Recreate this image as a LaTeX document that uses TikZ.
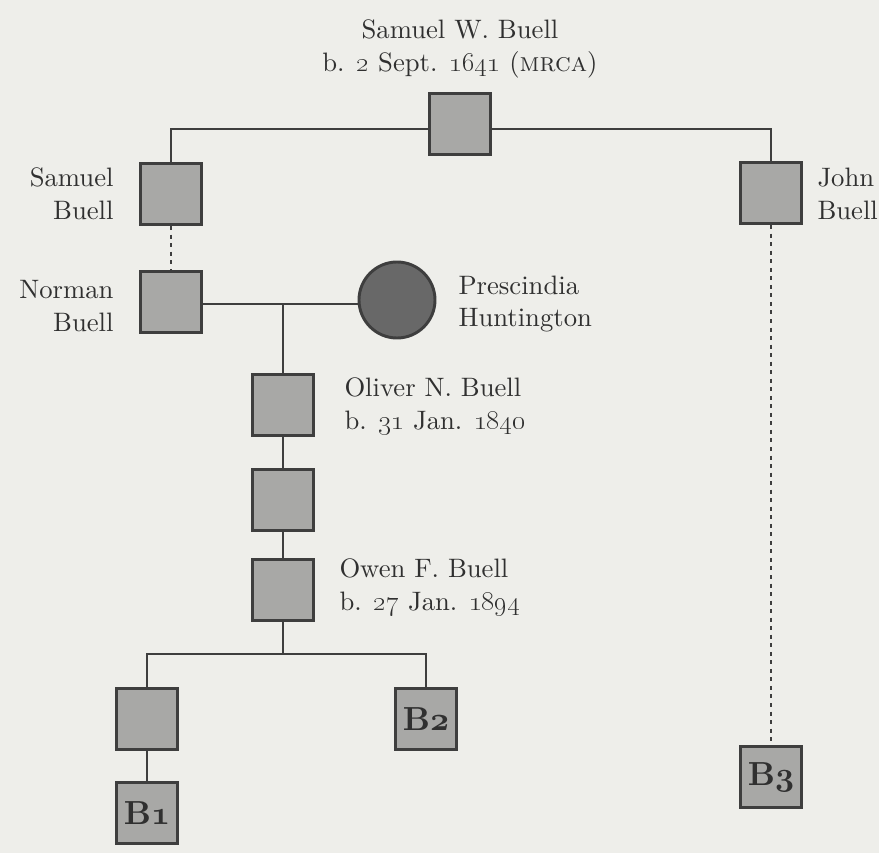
\documentclass[tikz,border=0pt]{standalone}
\usetikzlibrary{positioning}

% one optical size for all labels (heavier strokes, like the printed chart)
\DeclareFontShape{TU}{lmr}{m}{n}{<-> \UnicodeFontFile{lmroman10-regular}{\UnicodeFontTeXLigatures}}{}
\DeclareFontShape{TU}{lmr}{b}{n}{<-> \UnicodeFontFile{lmroman10-bold}{\UnicodeFontTeXLigatures}}{}
\DeclareFontShape{TU}{lmr}{bx}{n}{<-> \UnicodeFontFile{lmroman10-bold}{\UnicodeFontTeXLigatures}}{}
\DeclareFontShape{TU}{lmr}{m}{sc}{<-> \UnicodeFontFile{lmromancaps10-regular}{\UnicodeFontTeXLigatures}}{}

% bold old-style figure for the B labels
\newcommand\boldfig[1]{{\usefont{OML}{cmm}{b}{it}#1}}

\definecolor{paper}{RGB}{238,238,234}
\definecolor{boxgray}{RGB}{168,168,166}
\definecolor{inkgray}{RGB}{62,62,62}
\definecolor{textgray}{RGB}{48,48,48}
\definecolor{womangray}{RGB}{104,104,104}

\tikzset{every picture/.style={line width=0.75pt}}
\tikzset{
  person/.style={draw=inkgray, fill=boxgray, line width=2.2pt, minimum size=46pt, inner sep=0pt,
                 font=\fontsize{25}{30}\selectfont\bfseries, text=textgray},
  spouse/.style={draw=inkgray, fill=womangray, circle, line width=2.2pt, minimum size=57pt},
  link/.style={draw=inkgray, line width=1.8pt},
  dotlink/.style={draw=inkgray, line width=1.8pt, dash pattern=on 3pt off 3.4pt},
  lbl/.style={text=textgray, font=\fontsize{20}{24.5}\selectfont, inner sep=0pt}
}

\begin{document}
\begin{tikzpicture}[x=0.75pt,y=0.75pt,yscale=-1,xscale=1]
	%paper
	\fill[paper] (0,0) rectangle (879,853);
	\useasboundingbox (0,0) rectangle (879,853);

	%Persons
	\node[person] (mrca) at (460,124) {};
	\node[person] (samuel) at (171,194) {};
	\node[person] (norman) at (171,302) {};
	\node[spouse] (prescindia) at (397,300) {};
	\node[person] (oliver) at (283,405) {};
	\node[person] (gen) at (283,500) {};
	\node[person] (owen) at (283,590) {};
	\node[person] (kid) at (147,719) {};
	\node[person] (b1) at (147,813) {B\boldfig{1}};
	\node[person] (b2) at (426,719) {B\boldfig{2}};
	\node[person] (john) at (771,193) {};
	\node[person] (b3) at (771,777) {B\boldfig{3}};

	%Lines
	\coordinate (topbar) at (460,129);
	\draw[link] (samuel.north) |- (mrca.west |- topbar);
	\draw[link] (mrca.east |- topbar) -| (john.north);
	\draw[dotlink] (samuel.south) -- (norman.north);
	\draw[dotlink] (john.south) -- (b3.north);
	\coordinate (marriage) at (283,304);
	\draw[link] (norman.east |- marriage) -- (prescindia.west |- marriage);
	\draw[link] (marriage) -- (oliver.north);
	\draw[link] (oliver.south) -- (gen.north);
	\draw[link] (gen.south) -- (owen.north);
	\coordinate (sibs) at (283,654);
	\draw[link] (owen.south) -- (sibs);
	\draw[link] (kid.north) |- (sibs) -| (b2.north);
	\draw[link] (kid.south) -- (b1.north);

	% Text Node
	\node[lbl, align=center] (mrcatext) at (460,49) {Samuel W. Buell\\b. \oldstylenums{2} Sept. \oldstylenums{1641} (\textsc{mrca})};
	% Text Node
	\node[lbl, align=right, anchor=east] (samueltext) at (114,194) {Samuel\\Buell};
	% Text Node
	\node[lbl, align=right, anchor=east] (normantext) at (114,306) {Norman\\Buell};
	% Text Node
	\node[lbl, align=left, anchor=west] (prescindiatext) at (458,304) {Prescindia\\Huntington};
	% Text Node
	\node[lbl, align=left, anchor=west] (johntext) at (817,194) {John\\Buell};
	% Text Node
	\node[lbl, align=left, anchor=west] (olivertext) at (344,406) {Oliver N. Buell\\b. \oldstylenums{31} Jan. \oldstylenums{1840}};
	% Text Node
	\node[lbl, align=left, anchor=west] (owentext) at (339,587) {Owen F. Buell\\b. \oldstylenums{27} Jan. \oldstylenums{1894}};

\end{tikzpicture}
\end{document}
